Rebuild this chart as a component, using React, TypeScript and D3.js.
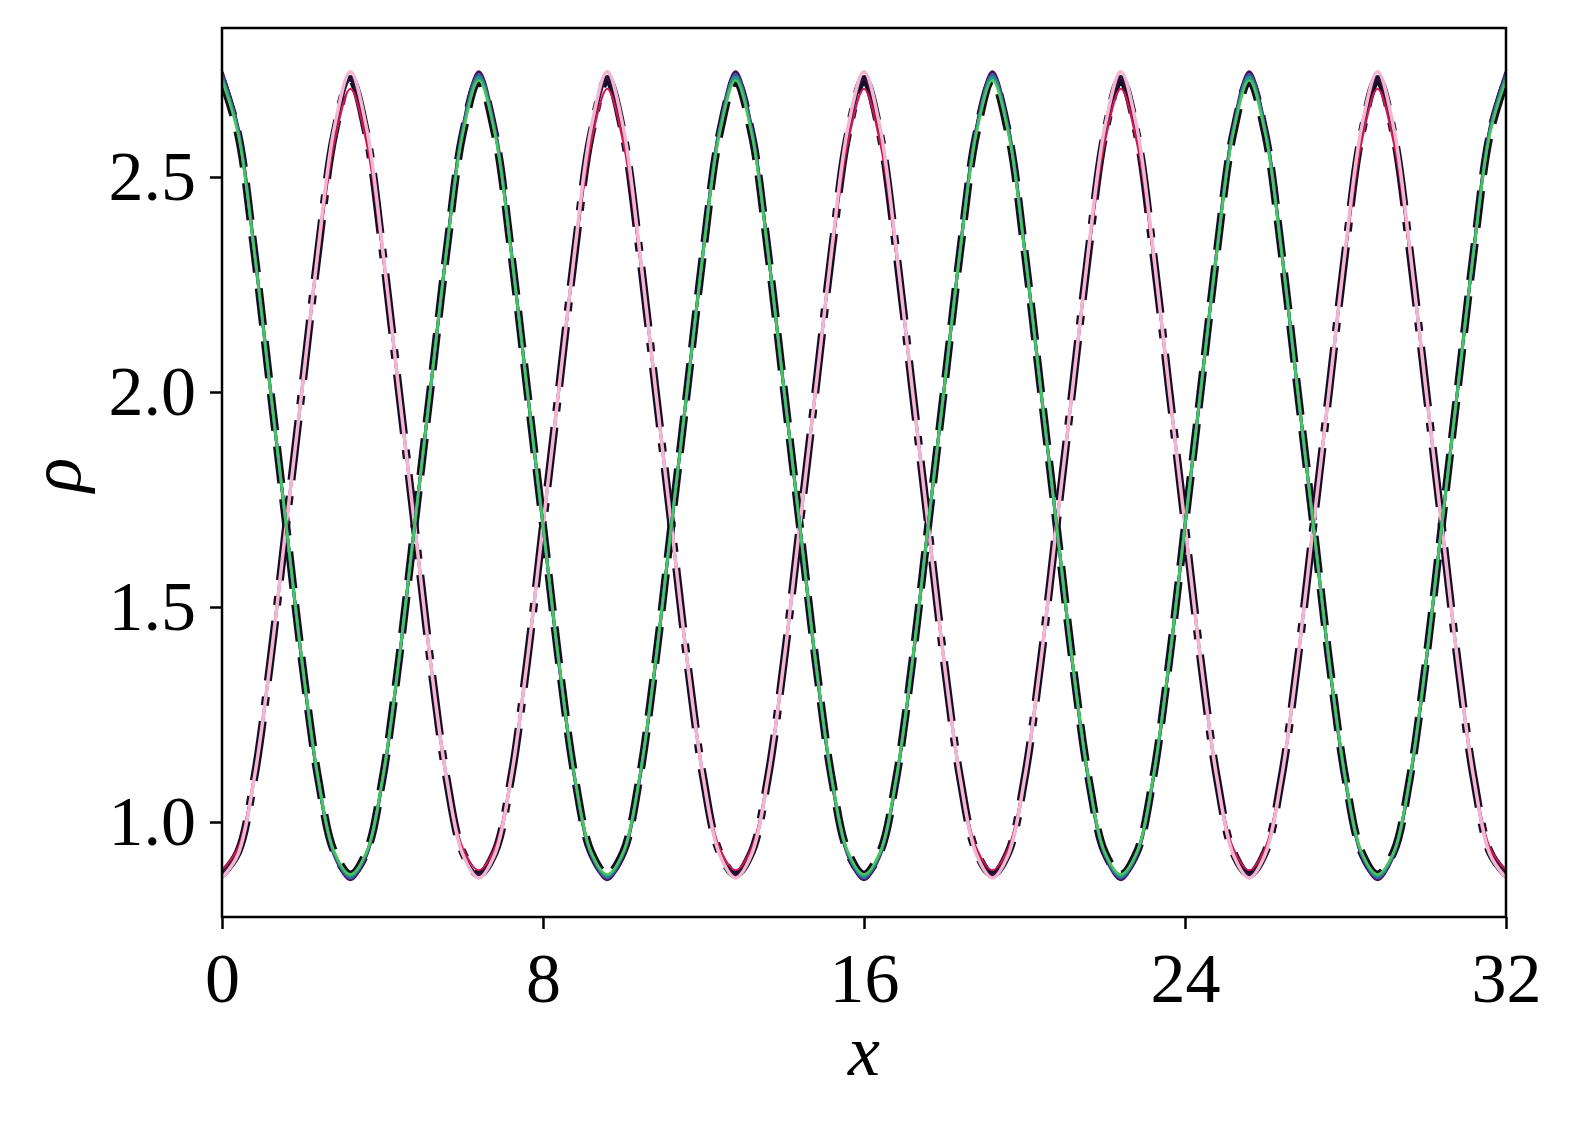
import { Component } from "react";
import * as d3 from "d3";

// sample spacing in x for every series (0 .. 32, 81 points)
const step = 0.4;

const xTicks = [0, 8, 16, 24, 32];
const yTicks = [1.0, 1.5, 2.0, 2.5];

// green family (peak at x = 0)
const rhoPurple = [
  2.745, 2.615, 2.335, 2.01, 1.69, 1.365, 1.095, 0.922, 0.866, 0.922, 1.095, 1.365, 1.69, 2.01, 2.335, 2.615,
  2.745, 2.615, 2.335, 2.01, 1.69, 1.365, 1.095, 0.922, 0.866, 0.922, 1.095, 1.365, 1.69, 2.01, 2.335, 2.615,
  2.745, 2.615, 2.335, 2.01, 1.69, 1.365, 1.095, 0.922, 0.866, 0.922, 1.095, 1.365, 1.69, 2.01, 2.335, 2.615,
  2.745, 2.615, 2.335, 2.01, 1.69, 1.365, 1.095, 0.922, 0.866, 0.922, 1.095, 1.365, 1.69, 2.01, 2.335, 2.615,
  2.745, 2.615, 2.335, 2.01, 1.69, 1.365, 1.095, 0.922, 0.866, 0.922, 1.095, 1.365, 1.69, 2.01, 2.335, 2.615,
  2.745,
];
const rhoBlue = [
  2.738, 2.61, 2.333, 2.01, 1.69, 1.367, 1.097, 0.925, 0.870, 0.925, 1.097, 1.367, 1.69, 2.01, 2.333, 2.61,
  2.738, 2.61, 2.333, 2.01, 1.69, 1.367, 1.097, 0.925, 0.870, 0.925, 1.097, 1.367, 1.69, 2.01, 2.333, 2.61,
  2.738, 2.61, 2.333, 2.01, 1.69, 1.367, 1.097, 0.925, 0.870, 0.925, 1.097, 1.367, 1.69, 2.01, 2.333, 2.61,
  2.738, 2.61, 2.333, 2.01, 1.69, 1.367, 1.097, 0.925, 0.870, 0.925, 1.097, 1.367, 1.69, 2.01, 2.333, 2.61,
  2.738, 2.61, 2.333, 2.01, 1.69, 1.367, 1.097, 0.925, 0.870, 0.925, 1.097, 1.367, 1.69, 2.01, 2.333, 2.61,
  2.738,
];
const rhoTeal = [
  2.732, 2.606, 2.332, 2.01, 1.69, 1.369, 1.099, 0.928, 0.874, 0.928, 1.099, 1.369, 1.69, 2.01, 2.332, 2.606,
  2.732, 2.606, 2.332, 2.01, 1.69, 1.369, 1.099, 0.928, 0.874, 0.928, 1.099, 1.369, 1.69, 2.01, 2.332, 2.606,
  2.732, 2.606, 2.332, 2.01, 1.69, 1.369, 1.099, 0.928, 0.874, 0.928, 1.099, 1.369, 1.69, 2.01, 2.332, 2.606,
  2.732, 2.606, 2.332, 2.01, 1.69, 1.369, 1.099, 0.928, 0.874, 0.928, 1.099, 1.369, 1.69, 2.01, 2.332, 2.606,
  2.732, 2.606, 2.332, 2.01, 1.69, 1.369, 1.099, 0.928, 0.874, 0.928, 1.099, 1.369, 1.69, 2.01, 2.332, 2.606,
  2.732,
];
const rhoGreen = [
  2.725, 2.60, 2.33, 2.01, 1.69, 1.37, 1.10, 0.93, 0.878, 0.93, 1.10, 1.37, 1.69, 2.01, 2.33, 2.60,
  2.725, 2.60, 2.33, 2.01, 1.69, 1.37, 1.10, 0.93, 0.878, 0.93, 1.10, 1.37, 1.69, 2.01, 2.33, 2.60,
  2.725, 2.60, 2.33, 2.01, 1.69, 1.37, 1.10, 0.93, 0.878, 0.93, 1.10, 1.37, 1.69, 2.01, 2.33, 2.60,
  2.725, 2.60, 2.33, 2.01, 1.69, 1.37, 1.10, 0.93, 0.878, 0.93, 1.10, 1.37, 1.69, 2.01, 2.33, 2.60,
  2.725, 2.60, 2.33, 2.01, 1.69, 1.37, 1.10, 0.93, 0.878, 0.93, 1.10, 1.37, 1.69, 2.01, 2.33, 2.60,
  2.725,
];

// pink family (trough at x = 0)
const rhoPink = [
  0.870, 0.925, 1.10, 1.37, 1.69, 2.01, 2.335, 2.615, 2.745, 2.615, 2.335, 2.01, 1.69, 1.37, 1.10, 0.925,
  0.870, 0.925, 1.10, 1.37, 1.69, 2.01, 2.335, 2.615, 2.745, 2.615, 2.335, 2.01, 1.69, 1.37, 1.10, 0.925,
  0.870, 0.925, 1.10, 1.37, 1.69, 2.01, 2.335, 2.615, 2.745, 2.615, 2.335, 2.01, 1.69, 1.37, 1.10, 0.925,
  0.870, 0.925, 1.10, 1.37, 1.69, 2.01, 2.335, 2.615, 2.745, 2.615, 2.335, 2.01, 1.69, 1.37, 1.10, 0.925,
  0.870, 0.925, 1.10, 1.37, 1.69, 2.01, 2.335, 2.615, 2.745, 2.615, 2.335, 2.01, 1.69, 1.37, 1.10, 0.925,
  0.870,
];
const rhoDark = [
  0.878, 0.93, 1.10, 1.37, 1.69, 2.01, 2.33, 2.60, 2.728, 2.60, 2.33, 2.01, 1.69, 1.37, 1.10, 0.93,
  0.878, 0.93, 1.10, 1.37, 1.69, 2.01, 2.33, 2.60, 2.728, 2.60, 2.33, 2.01, 1.69, 1.37, 1.10, 0.93,
  0.878, 0.93, 1.10, 1.37, 1.69, 2.01, 2.33, 2.60, 2.728, 2.60, 2.33, 2.01, 1.69, 1.37, 1.10, 0.93,
  0.878, 0.93, 1.10, 1.37, 1.69, 2.01, 2.33, 2.60, 2.728, 2.60, 2.33, 2.01, 1.69, 1.37, 1.10, 0.93,
  0.878, 0.93, 1.10, 1.37, 1.69, 2.01, 2.33, 2.60, 2.728, 2.60, 2.33, 2.01, 1.69, 1.37, 1.10, 0.93,
  0.878,
];
const rhoRed = [
  0.888, 0.94, 1.105, 1.37, 1.69, 2.005, 2.32, 2.58, 2.705, 2.58, 2.32, 2.005, 1.69, 1.37, 1.105, 0.94,
  0.888, 0.94, 1.105, 1.37, 1.69, 2.005, 2.32, 2.58, 2.705, 2.58, 2.32, 2.005, 1.69, 1.37, 1.105, 0.94,
  0.888, 0.94, 1.105, 1.37, 1.69, 2.005, 2.32, 2.58, 2.705, 2.58, 2.32, 2.005, 1.69, 1.37, 1.105, 0.94,
  0.888, 0.94, 1.105, 1.37, 1.69, 2.005, 2.32, 2.58, 2.705, 2.58, 2.32, 2.005, 1.69, 1.37, 1.105, 0.94,
  0.888, 0.94, 1.105, 1.37, 1.69, 2.005, 2.32, 2.58, 2.705, 2.58, 2.32, 2.005, 1.69, 1.37, 1.105, 0.94,
  0.888,
];

const xs = d3.range(rhoGreen.length).map(i => i * step);

class App extends Component {

  componentDidMount() {
    this.draw();
  }

  draw() {
    const width = 1577;
    const height = 1126;
    const margin = { top: 28, bottom: height - 917, left: 222, right: width - 1506 };
    const font = '"Liberation Serif", "Times New Roman", serif';

    const svg = d3.select('#rho-svg');
    svg.selectAll('*').remove();

    const x = d3.scaleLinear()
      .domain([0, 32])
      .range([margin.left, width - margin.right]);
    const y = d3.scaleLinear()
      .domain([0.7791, 2.8465])
      .range([height - margin.bottom, margin.top]);

    svg.append('defs').append('clipPath')
      .attr('id', 'plot-clip')
      .append('rect')
      .attr('x', margin.left)
      .attr('y', margin.top)
      .attr('width', width - margin.left - margin.right)
      .attr('height', height - margin.top - margin.bottom);

    const line = d3.line<number>()
      .x((d, i) => x(xs[i]))
      .y(d => y(d))
      .curve(d3.curveCatmullRom);

    const plot = svg.append('g').attr('clip-path', 'url(#plot-clip)');

    // black reference curves underneath, wider than the coloured ones
    const refs = [
      { data: rhoDark, dash: '60 16 9 16' },
      { data: rhoGreen, dash: '37 16' },
    ];
    plot.selectAll('.ref-line')
      .data(refs)
      .join('path')
      .attr('class', 'ref-line')
      .attr('d', d => line(d.data))
      .attr('fill', 'none')
      .attr('stroke', '#160d24')
      .attr('stroke-width', 8)
      .attr('stroke-dasharray', d => d.dash);

    const series = [
      { data: rhoDark, color: '#2a1238', w: 3 },
      { data: rhoRed, color: '#d41650', w: 2 },
      { data: rhoPink, color: '#f3b6d2', w: 3.5 },
      { data: rhoPurple, color: '#46105e', w: 3 },
      { data: rhoBlue, color: '#3a5f98', w: 3 },
      { data: rhoTeal, color: '#21998a', w: 3 },
      { data: rhoGreen, color: '#4cc65a', w: 2.5 },
    ];
    plot.selectAll('.rho-line')
      .data(series)
      .join('path')
      .attr('class', 'rho-line')
      .attr('d', d => line(d.data))
      .attr('fill', 'none')
      .attr('stroke', d => d.color)
      .attr('stroke-width', d => d.w)
      .attr('stroke-linejoin', 'round');

    // axes
    const xAxis = svg.append('g')
      .attr('transform', `translate(0, ${height - margin.bottom})`)
      .call(d3.axisBottom(x).tickValues(xTicks).tickSize(12).tickPadding(23).tickFormat(d3.format('d')));
    const yAxis = svg.append('g')
      .attr('transform', `translate(${margin.left}, 0)`)
      .call(d3.axisLeft(y).tickValues(yTicks).tickSize(12).tickPadding(14).tickFormat(d3.format('.1f')));

    [xAxis, yAxis].forEach(ax => {
      ax.select('.domain').remove();
      ax.selectAll('line').attr('stroke', '#000').attr('stroke-width', 2.5);
      ax.selectAll('text')
        .attr('fill', '#000')
        .style('font-family', font)
        .style('font-size', '70px');
    });

    svg.append('rect')
      .attr('x', margin.left)
      .attr('y', margin.top)
      .attr('width', width - margin.left - margin.right)
      .attr('height', height - margin.top - margin.bottom)
      .attr('fill', 'none')
      .attr('stroke', '#000')
      .attr('stroke-width', 2.5);

    svg.append('text')
      .attr('x', (margin.left + width - margin.right) / 2)
      .attr('y', 1075)
      .attr('text-anchor', 'middle')
      .style('font-family', font)
      .style('font-style', 'italic')
      .style('font-size', '72px')
      .text('x');

    svg.append('text')
      .attr('transform', `translate(80, 475) rotate(-90)`)
      .attr('text-anchor', 'middle')
      .style('font-family', font)
      .style('font-style', 'italic')
      .style('font-size', '72px')
      .text('ρ');
  }

  render() {
    return (
      <svg id="rho-svg" width={1577} height={1126}
        style={{ position: 'absolute', left: 0, top: 0, background: '#fff' }} />
    );
  }
}

export default App;
